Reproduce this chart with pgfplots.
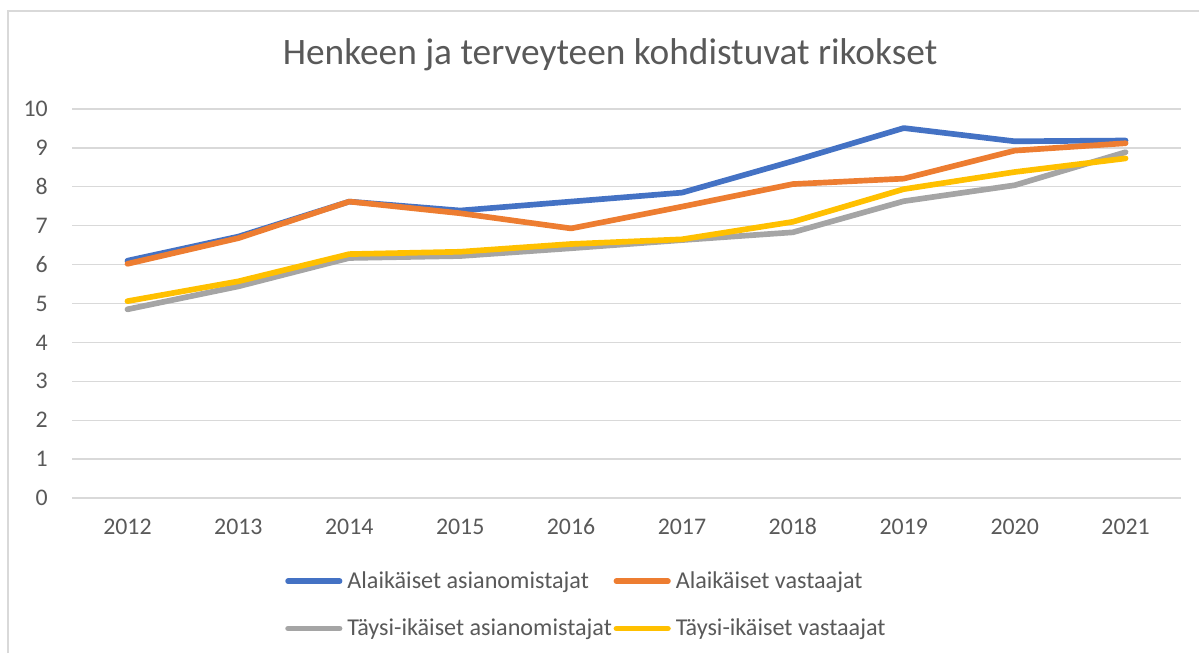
\documentclass[border=0pt]{standalone}
\usepackage{pgfplots}
\usepackage{pgfplotstable}
\pgfplotsset{compat=1.18}
\usepackage{fontspec}
\setmainfont{Carlito}
\definecolor{cblue}{HTML}{4472C4}
\definecolor{corange}{HTML}{ED7D31}
\definecolor{cgray}{HTML}{A5A5A5}
\definecolor{cyellow}{HTML}{FFC000}
\definecolor{cgrid}{HTML}{D9D9D9}
\definecolor{ctext}{HTML}{595959}
\pgfplotstableread{
x y1 y2 y3 y4
0 6.10 6.02 4.85 5.06
1 6.72 6.68 5.44 5.57
2 7.62 7.62 6.17 6.27
3 7.39 7.32 6.22 6.33
4 7.62 6.93 6.42 6.53
5 7.85 7.49 6.63 6.65
6 8.66 8.07 6.83 7.10
7 9.51 8.21 7.63 7.94
8 9.17 8.93 8.04 8.38
9 9.19 9.12 8.89 8.73
}\datatable
\begin{document}
\begin{tikzpicture}
\useasboundingbox (0pt,0pt) rectangle (719.4pt,391.8pt);
\draw[cgrid, line width=0.9pt] (4.8pt,0pt) -- (4.8pt,385.2pt) -- (719.4pt,385.2pt);
\node[text=ctext, font=\fontsize{22.4}{27}\selectfont] at (366pt,358.8pt) {Henkeen ja terveyteen kohdistuvat rikokset};
\begin{axis}[
  at={(43.2pt,93pt)}, anchor=south west,
  scale only axis, width=665.4pt, height=233.4pt,
  xmin=-0.5, xmax=9.5, ymin=0, ymax=10,
  xtick={0,...,9},
  xticklabels={2012,2013,2014,2015,2016,2017,2018,2019,2020,2021},
  ytick={0,1,...,10},
  axis line style={draw=none},
  major tick length=0pt,
  ymajorgrids, grid style={cgrid, line width=0.8pt},
  /pgf/number format/assume math mode=true,
  tick label style={text=ctext, font=\fontsize{14.3}{17}\selectfont, inner sep=0pt},
  xticklabel style={anchor=base, yshift=-21.8pt},
  yticklabel style={anchor=base east, xshift=-14.4pt, yshift=-4.6pt},
  clip=false,
  legend columns=2,
  legend cell align=left,
  legend image code/.code={\draw[#1, line width=3.3pt, line cap=round] (0pt,0pt) -- (31pt,0pt);},
  legend style={at={(axis description cs:0.192,-0.184)}, anchor=north west, draw=none, fill=none,
    inner sep=0pt, font=\fontsize{14.5}{17}\selectfont, text=ctext,
    row sep=14.8pt,
    nodes={inner sep=1pt},
    /tikz/every odd column/.append style={column sep=2pt}},
]
\addplot[cblue, line width=3.4pt, line cap=round, line join=round] table[x=x, y=y1] {\datatable};
\addlegendentry{Alaikäiset asianomistajat}
\addplot[corange, line width=3.4pt, line cap=round, line join=round] table[x=x, y=y2] {\datatable};
\addlegendentry{Alaikäiset vastaajat}
\addplot[cgray, line width=3.4pt, line cap=round, line join=round] table[x=x, y=y3] {\datatable};
\addlegendentry{Täysi-ikäiset asianomistajat}
\addplot[cyellow, line width=3.4pt, line cap=round, line join=round] table[x=x, y=y4] {\datatable};
\addlegendentry{Täysi-ikäiset vastaajat}
\end{axis}
\end{tikzpicture}
\end{document}
